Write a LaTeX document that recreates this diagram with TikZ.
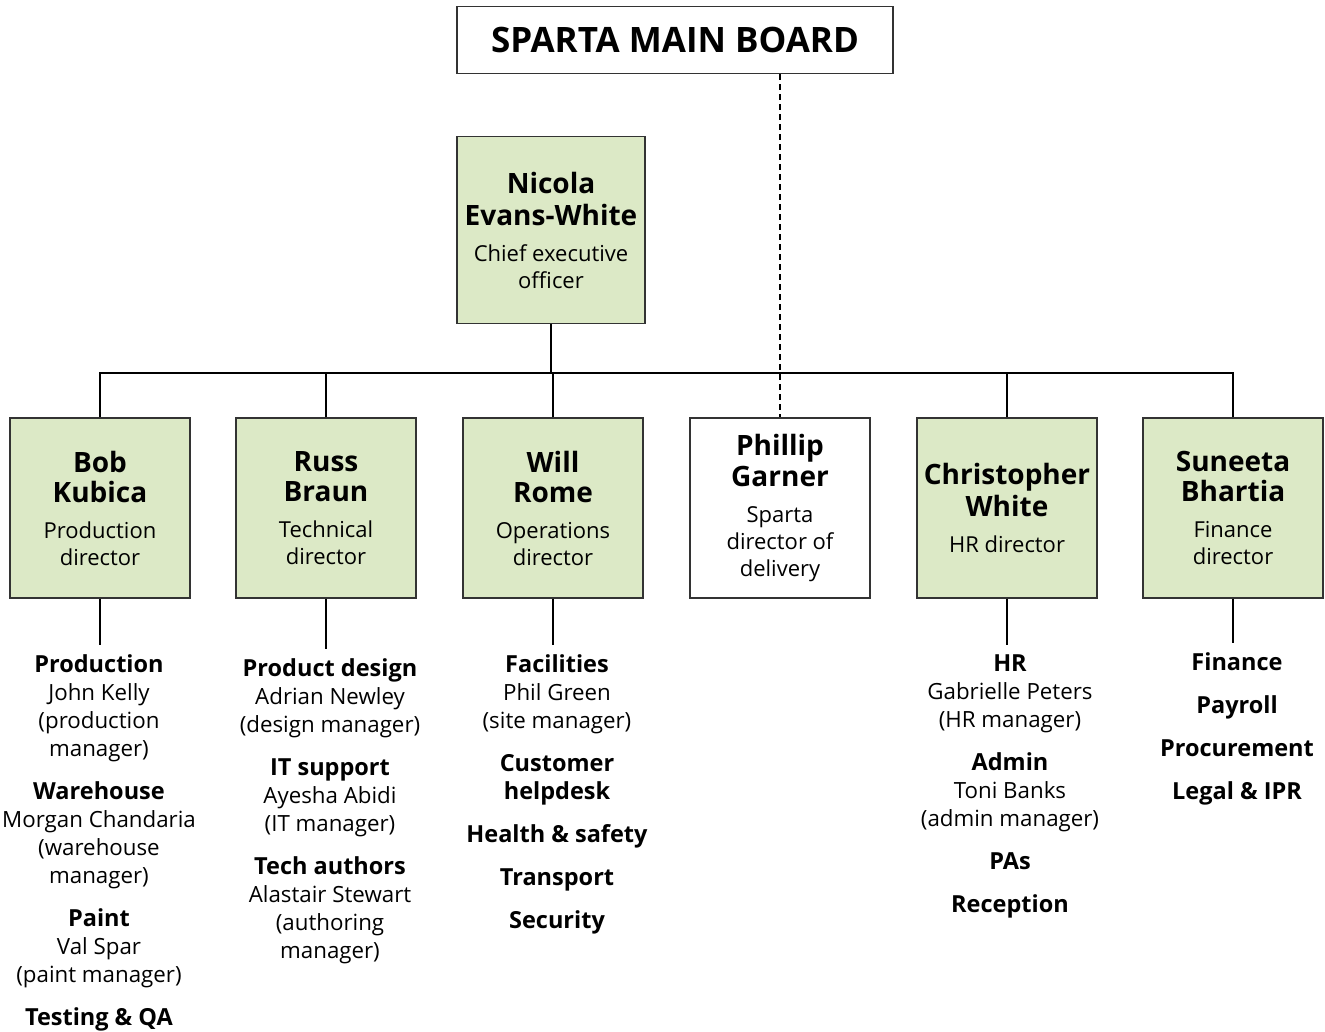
\documentclass[tikz,border=0pt]{standalone}
\usepackage{fontspec}
\setmainfont{Open Sans}
\usepackage{xcolor}
\definecolor{boxgreen}{RGB}{220,233,198}
\newcommand{\nm}[1]{{\fontsize{28}{30}\selectfont\bfseries #1}}
\newcommand{\hd}[1]{{\fontsize{23.5}{28}\selectfont\bfseries #1}}

\begin{document}
\begin{tikzpicture}[x=1pt,y=-1pt,line width=1.6pt,
  every node/.style={inner sep=2pt},
  board/.style={draw=black!80,line width=1.2pt,minimum width=436pt,minimum height=67pt,
    font=\fontsize{35}{38}\selectfont\bfseries},
  person/.style={draw=black!80,line width=1.2pt,fill=boxgreen,minimum width=180pt,
    minimum height=180pt,align=center,font=\fontsize{22}{27}\selectfont},
  outside/.style={person,fill=white},
  team/.style={anchor=north,align=center,inner xsep=0pt,inner ysep=9pt,
    font=\fontsize{22.3}{28}\selectfont}]
  \useasboundingbox (0,0) rectangle (1325,1031);
  % boxes
  \node[board] (board) at (675,40) {SPARTA MAIN BOARD};
  \node[person,minimum width=188pt,minimum height=187pt] (ceo) at (551,230)
    {\nm{Nicola}\\[5pt]\nm{Evans-White}\\[9pt]Chief executive\\officer};
  \node[person]  (bob)     at (100,508)  {\nm{Bob}\\[3pt]\nm{Kubica}\\[9pt]Production\\director};
  \node[person]  (russ)    at (326,508)  {\nm{Russ}\\[3pt]\nm{Braun}\\[9pt]Technical\\director};
  \node[person]  (will)    at (553,508)  {\nm{Will}\\[3pt]\nm{Rome}\\[9pt]Operations\\director};
  \node[outside] (phillip) at (780,508)  {\nm{Phillip}\\[3pt]\nm{Garner}\\[9pt]Sparta\\director of\\delivery};
  \node[person]  (chris)   at (1007,508) {\nm{Christopher}\\[3pt]\nm{White}\\[9pt]HR director};
  \node[person]  (suneeta) at (1233,508) {\nm{Suneeta}\\[3pt]\nm{Bhartia}\\[9pt]Finance\\director};
  \coordinate (bus) at (551,373);
  % departments
  \node[team] (bob-list) at (99,645) {\hd{Production}\\John Kelly\\(production\\manager)\\[15pt]
    \hd{Warehouse}\\Morgan Chandaria\\(warehouse\\manager)\\[15pt]
    \hd{Paint}\\Val Spar\\(paint manager)\\[15pt]\hd{Testing \& QA}};
  \node[team] (russ-list) at (330,649) {\hd{Product design}\\Adrian Newley\\(design manager)\\[15pt]
    \hd{IT support}\\Ayesha Abidi\\(IT manager)\\[15pt]
    \hd{Tech authors}\\Alastair Stewart\\(authoring\\manager)};
  \node[team] (will-list) at (557,645) {\hd{Facilities}\\Phil Green\\(site manager)\\[15pt]
    \hd{Customer}\\\hd{helpdesk}\\[15pt]\hd{Health \& safety}\\[15pt]
    \hd{Transport}\\[15pt]\hd{Security}};
  \node[team] (chris-list) at (1010,645) {\hd{HR}\\Gabrielle Peters\\(HR manager)\\[15pt]
    \hd{Admin}\\Toni Banks\\(admin manager)\\[15pt]\hd{PAs}\\[15pt]\hd{Reception}};
  \node[team] (suneeta-list) at (1237,643) {\hd{Finance}\\[15pt]\hd{Payroll}\\[15pt]
    \hd{Procurement}\\[15pt]\hd{Legal \& IPR}};
  % lines
  \draw (ceo.south) -- (bus);
  \draw (bob.north) |- (bus) -| (suneeta.north);
  \foreach \p in {russ,will,chris} \draw (\p.north) -- (\p.north |- bus);
  \draw[dash pattern=on 6pt off 4pt] (board.south -| phillip.north) -- (phillip.north);
  \foreach \p in {bob,russ,will,chris,suneeta} \draw (\p.south) -- (\p.south |- \p-list.north);
\end{tikzpicture}
\end{document}
